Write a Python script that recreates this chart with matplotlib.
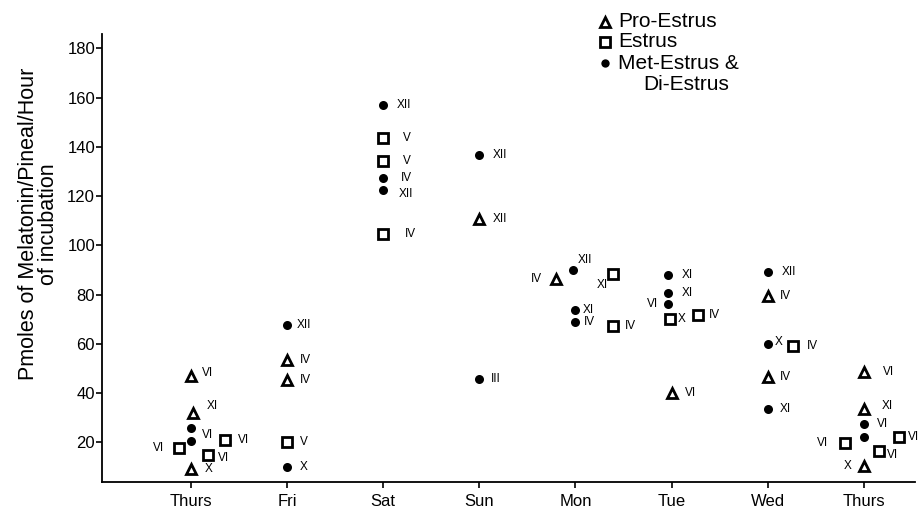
import matplotlib
matplotlib.use('Agg')
import matplotlib.pyplot as plt

plt.rcParams['font.family'] = ['Liberation Sans', 'DejaVu Sans']

days = ['Thurs', 'Fri', 'Sat', 'Sun', 'Mon', 'Tue', 'Wed', 'Thurs']

# Pro-Estrus (open triangles)
pro_day = [0, 0, 0, 1, 1, 3, 4, 5, 6, 6, 7, 7, 7]
pro_shift = [0, 0.02, 0, 0, 0, 0, -0.2, 0, 0, 0, 0, 0, 0]
pro_val = [47, 31.8, 9.2, 53.5, 45.1, 110.8, 86.5, 40, 79.6, 46.7, 48.5, 33.6, 10.2]
pro_lab = ['VI', 'XI', 'X', 'IV', 'IV', 'XII', 'IV', 'VI', 'IV', 'IV', 'VI', 'XI', 'X']

# Estrus (open squares)
est_day = [0, 0, 0, 1, 2, 2, 2, 4, 4, 5, 5, 6, 7, 7, 7]
est_shift = [-0.125, 0.35, 0.18, 0, 0, 0, 0, 0.39, 0.39, -0.02, 0.28, 0.26, -0.19, 0.37, 0.16]
est_val = [17.6, 21, 15, 20, 143.4, 134.3, 104.5, 88.5, 67.1, 70.2, 71.5, 59, 19.6, 22.3, 16.6]
est_lab = ['VI', 'VI', 'VI', 'V', 'V', 'V', 'IV', 'XI', 'IV', 'X', 'IV', 'IV', 'VI', 'VI', 'VI']

# Met-Estrus & Di-Estrus (filled circles)
met_day = [0, 0, 1, 1, 2, 2, 2, 3, 3, 4, 4, 4, 5, 5, 5, 6, 6, 6, 7, 7]
met_shift = [0, 0, 0, 0, 0, 0, 0, 0, 0, -0.03, 0, 0, -0.04, -0.04, -0.04, 0, 0, 0, 0, 0]
met_val = [25.9, 20.7, 67.5, 9.8, 156.9, 127.5, 122.6, 136.6, 45.8, 90.1, 73.6, 68.8,
           87.8, 80.8, 76.0, 89.0, 60.0, 33.6, 27.5, 22.0]
met_lab = ['VI', '', 'XII', 'X', 'XII', 'IV', 'XII', 'XII', 'III', 'XII', 'XI', 'IV',
           'XI', 'XI', 'VI', 'XII', 'X', 'XI', 'VI', '']

# where each roman-numeral tag sits relative to its marker (points)
pro_off = [(8, 2), (10, 5.5), (10, 0), (9, 0), (9, 0), (9.5, 0), (-10, 0), (9.5, 0),
           (9, 0), (9, 0), (14, 0), (13, 2), (-9, 0)]
est_off = [(-11, 0), (9.5, 0), (7, -2.5), (9, 0), (14, 0), (14, 0), (15.5, 0), (-3.5, -8.5),
           (8.5, 0), (6, 0), (7.5, 0), (10, 0), (-12.5, 0), (6, 0), (5.5, -3)]
met_off = [(7.7, -5.5), (0, 0), (7, 0), (9, 0), (9.5, 0), (13, 0), (11, -3.4), (9.5, 0),
           (8.5, 0), (3.6, 6.7), (5.5, 0), (6, 0), (10, 0), (10, 0), (-7, 0), (10, 0),
           (5, 1), (9, 0), (9.5, 0), (0, 0)]

fig = plt.figure(figsize=(9.21, 5.16), dpi=100)
ax = fig.add_axes([0.1108, 0.0665, 0.8827, 0.8685])

groups = [
    (pro_day, pro_shift, pro_val, pro_lab, pro_off, dict(marker='^', ms=7.5, mfc='white', mec='black', mew=2.0)),
    (est_day, est_shift, est_val, est_lab, est_off, dict(marker='s', ms=7, mfc='white', mec='black', mew=2.0)),
    (met_day, met_shift, met_val, met_lab, met_off, dict(marker='o', ms=6.5, mfc='black', mec='black', mew=0)),
]

for day, shift, val, lab, off, style in groups:
    xs = [d + s for d, s in zip(day, shift)]
    ax.plot(xs, val, linestyle='none', zorder=3, **style)
    for x, v, t, (dx, dy) in zip(xs, val, lab, off):
        if t:
            ax.annotate(t, (x, v), xytext=(dx, dy), textcoords='offset points',
                        ha='right' if dx < 0 else 'left', va='center', fontsize=8.5)

ax.set_xlim(-0.926, 7.534)
ax.set_ylim(4, 186)
ax.set_xticks(range(len(days)))
ax.set_xticklabels(days, fontsize=12)
ax.set_yticks(range(20, 181, 20))
ax.tick_params(axis='y', labelsize=12, length=4, width=1.2, pad=1, direction='out')
ax.tick_params(axis='x', length=4, width=1.2, pad=5, direction='out')
for side in ['top', 'right']:
    ax.spines[side].set_visible(False)
for side in ['left', 'bottom']:
    ax.spines[side].set_linewidth(1.3)

fig.text(0.042, 0.566, 'Pmoles of Melatonin/Pineal/Hour\nof incubation', rotation=90,
         ha='center', va='center', multialignment='center', fontsize=15.5, linespacing=0.95)

# legend drawn by hand at the top
leg_marks = [dict(marker='^', ms=7, mfc='white', mec='black', mew=2.0),
             dict(marker='s', ms=6.5, mfc='white', mec='black', mew=2.0),
             dict(marker='o', ms=6, mfc='black', mec='black', mew=0)]
leg_text = ['Pro-Estrus', 'Estrus', 'Met-Estrus &']
leg_y = [1 - 21.7 / 516, 1 - 41.7 / 516, 1 - 63.3 / 516]
for m, t, y in zip(leg_marks, leg_text, leg_y):
    ax.plot([605 / 921], [y], transform=fig.transFigure, clip_on=False, **m)
    fig.text(618 / 921, y, t, ha='left', va='center', fontsize=15)
fig.text(643 / 921, 1 - 84 / 516, 'Di-Estrus', ha='left', va='center', fontsize=15)

fig.savefig('out.png', dpi=100)
